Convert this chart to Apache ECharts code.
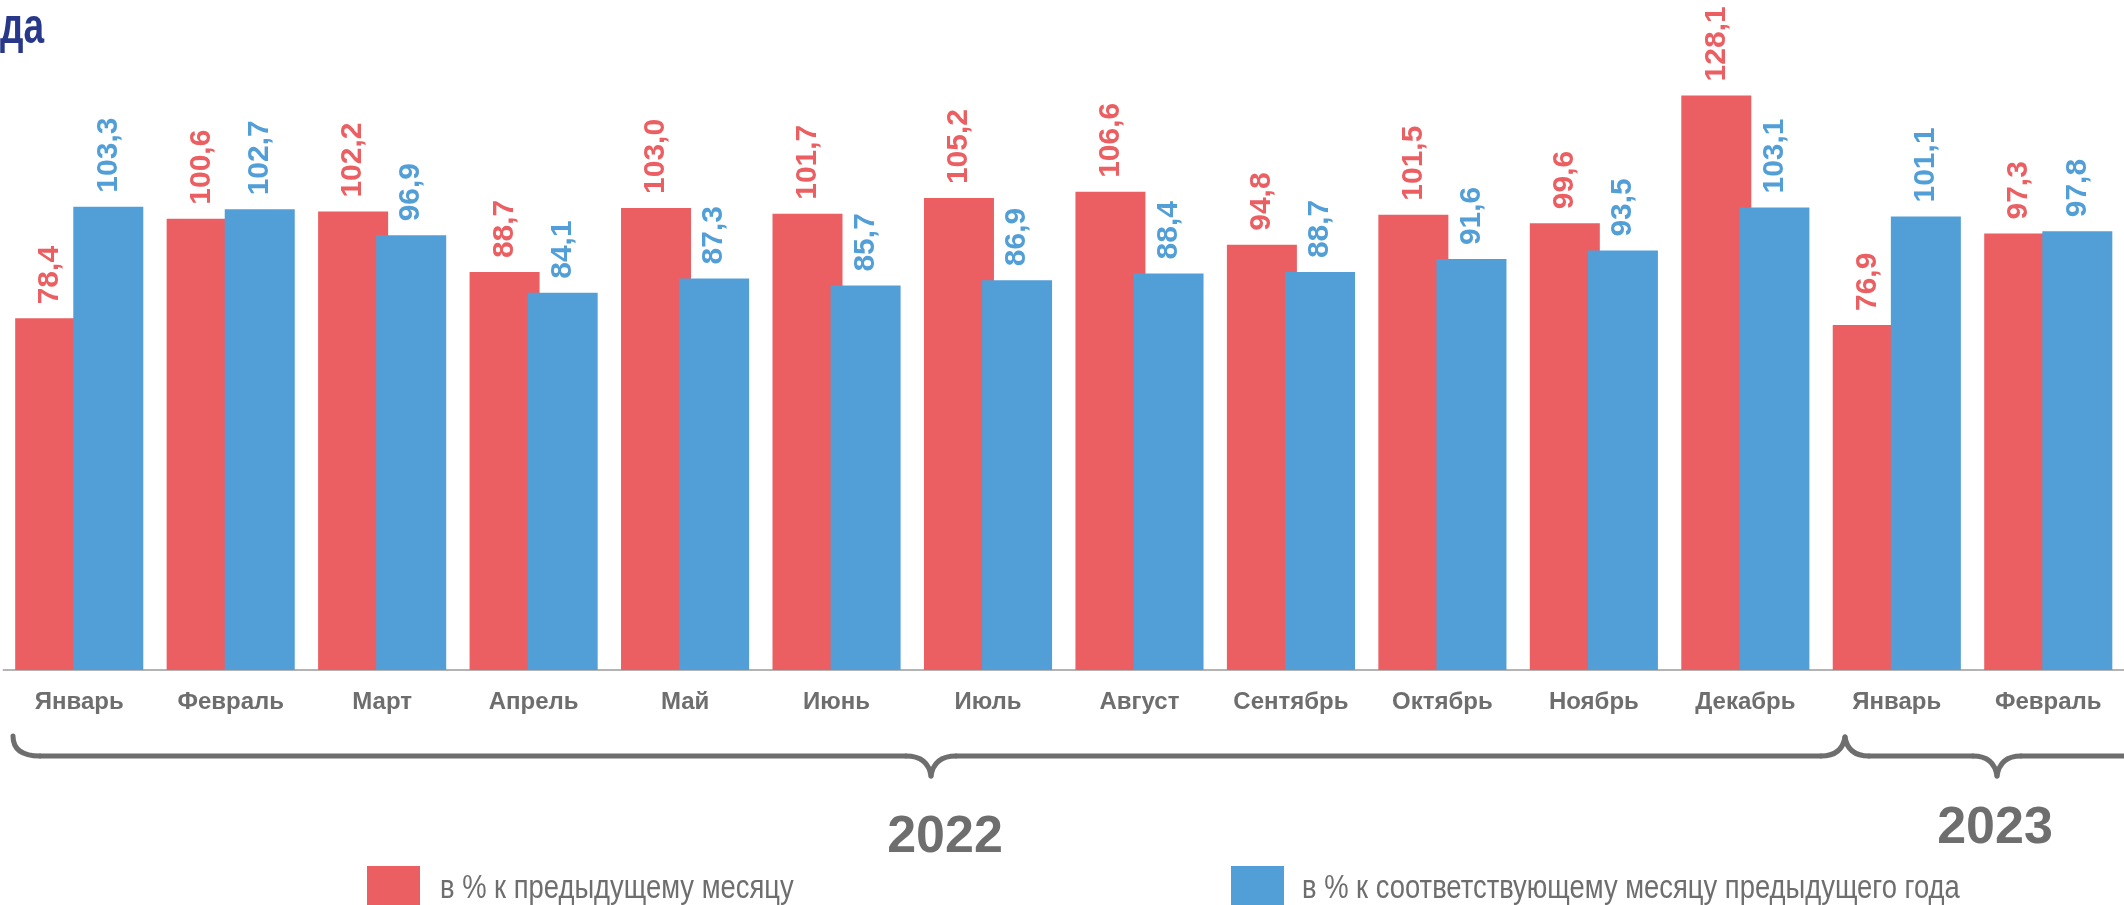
<!DOCTYPE html>
<html>
<head>
<meta charset="utf-8">
<title>Индексы по месяцам</title>
<script src="https://cdn.jsdelivr.net/npm/echarts@6/dist/echarts.min.js"></script>
<style>
  html, body { margin: 0; padding: 0; background: #fff; }
  #chart { width: 2124px; height: 905px; }
</style>
</head>
<body>
<div id="chart"></div>
<script>
// months on the axis (2022 Jan..Dec, 2023 Jan..Feb)
const months = ["Январь", "Февраль", "Март", "Апрель", "Май", "Июнь", "Июль",
  "Август", "Сентябрь", "Октябрь", "Ноябрь", "Декабрь", "Январь", "Февраль"];
// в % к предыдущему месяцу
const prevMonth = [78.4, 100.6, 102.2, 88.7, 103.0, 101.7, 105.2, 106.6, 94.8, 101.5, 99.6, 128.1, 76.9, 97.3];
// в % к соответствующему месяцу предыдущего года
const prevYear = [103.3, 102.7, 96.9, 84.1, 87.3, 85.7, 86.9, 88.4, 88.7, 91.6, 93.5, 103.1, 101.1, 97.8];
const seriesNames = ["в % к предыдущему месяцу", "в % к соответствующему месяцу предыдущего года"];
const years = ["2022", "2023"];

const RED = "#eb5f62";
const BLUE = "#529fd7";
const GREY = "#6e6e6e";
const FONT = "'Liberation Sans', Arial, sans-serif";

const chart = echarts.init(document.getElementById("chart"));

function fmt(p) {
  return p.value.toFixed(1).replace(".", ",");
}

function barLabel(color) {
  return {
    show: true,
    position: "top",
    rotate: 90,
    align: "left",
    verticalAlign: "middle",
    distance: 14,
    formatter: fmt,
    color: color,
    fontFamily: FONT,
    fontWeight: "bold",
    fontSize: 30,
  };
}

// pieces of the curly braces under the axis
const braceStyle = { fill: null, stroke: GREY, lineWidth: 5, lineCap: "round" };
function seg(x1, y1, x2, y2) {
  return { type: "line", shape: { x1, y1, x2, y2 }, style: braceStyle };
}
function curve(x1, y1, cx, cy, x2, y2) {
  return { type: "bezierCurve", shape: { x1, y1, cpx1: cx, cpy1: cy, x2, y2 }, style: braceStyle };
}
const LY = 756;
const braces = [
  { type: "bezierCurve", shape: { x1: 13, y1: 736, cpx1: 13, cpy1: 749, cpx2: 22, cpy2: LY, x2: 40, y2: LY }, style: braceStyle },
  seg(40, LY, 906, LY),
  curve(906, LY, 928, LY, 931, 776),
  curve(931, 776, 934, LY, 956, LY),
  seg(956, LY, 1821, LY),
  curve(1821, LY, 1842, LY, 1845, 737),
  curve(1845, 737, 1848, LY, 1869, LY),
  seg(1869, LY, 1973, LY),
  curve(1973, LY, 1994, LY, 1997, 776),
  curve(1997, 776, 2000, LY, 2021, LY),
  seg(2021, LY, 2140, LY),
];

// legend squares come from the legend; their captions are set in a narrow face below
function legendAt(name, left) {
  return {
    data: [name],
    left: left,
    top: 866,
    padding: 0,
    icon: "rect",
    itemWidth: 53,
    itemHeight: 52,
    formatter: () => "",
  };
}
function narrowText(text, x, y, size, color, weight, sx) {
  return {
    type: "text",
    x: x,
    y: y,
    scaleX: sx,
    style: { text: text, fill: color, verticalAlign: "middle", font: weight + " " + size + "px " + FONT },
  };
}

const option = {
  animation: false,
  grid: { left: 3.5, right: -20, top: 42, bottom: 235 },
  legend: [legendAt(seriesNames[0], 367), legendAt(seriesNames[1], 1231)],
  xAxis: {
    type: "category",
    data: months,
    axisTick: { show: false },
    axisLine: { lineStyle: { color: "#b4b4b4", width: 2 } },
    axisLabel: {
      interval: 0,
      margin: 20,
      color: GREY,
      fontWeight: "bold",
      fontSize: 24,
      fontFamily: FONT,
    },
  },
  yAxis: {
    type: "value",
    min: 0,
    max: 140,
    show: false,
    splitLine: { show: false },
  },
  series: [
    {
      name: seriesNames[0],
      type: "bar",
      data: prevMonth,
      barWidth: 70,
      barGap: "-17%",
      itemStyle: { color: RED },
      label: barLabel(RED),
    },
    {
      name: seriesNames[1],
      type: "bar",
      data: prevYear,
      barWidth: 70,
      barGap: "-17%",
      itemStyle: { color: BLUE },
      label: barLabel(BLUE),
    },
  ],
  graphic: [
    narrowText("да", 0, 29, 50, "#27378a", "bold", 0.74),
    ...braces,
    {
      type: "text",
      x: 945,
      y: 838,
      style: { text: years[0], fill: GREY, align: "center", verticalAlign: "middle", font: "bold 52px " + FONT },
    },
    {
      type: "text",
      x: 1995,
      y: 829,
      style: { text: years[1], fill: GREY, align: "center", verticalAlign: "middle", font: "bold 52px " + FONT },
    },
    narrowText(seriesNames[0], 440, 889, 33, GREY, "normal", 0.83),
    narrowText(seriesNames[1], 1302, 889, 33, GREY, "normal", 0.83),
  ],
};

chart.setOption(option);
</script>
</body>
</html>
